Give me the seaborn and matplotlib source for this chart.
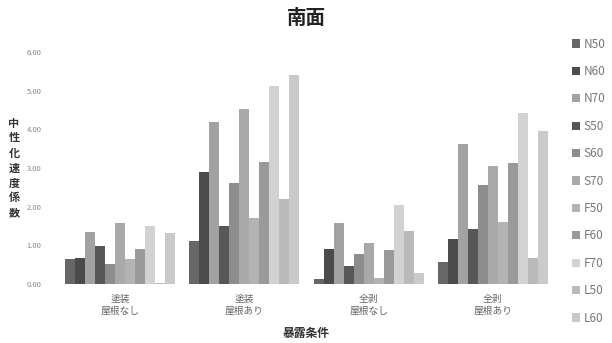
import matplotlib
matplotlib.use("Agg")
import matplotlib.pyplot as plt
import seaborn as sns
import pandas as pd

conditions = ["塗装\n屋根なし", "塗装\n屋根あり", "全剥\n屋根なし", "全剥\n屋根あり"]
series = ["N50", "N60", "N70", "S50", "S60", "S70", "F50", "F60", "F70", "L50", "L60"]

N50 = [0.64, 1.12, 0.12, 0.58]
N60 = [0.66, 2.89, 0.90, 1.16]
N70 = [1.35, 4.19, 1.57, 3.63]
S50 = [0.98, 1.50, 0.47, 1.41]
S60 = [0.52, 2.60, 0.77, 2.56]
S70 = [1.57, 4.52, 1.05, 3.06]
F50 = [0.64, 1.71, 0.15, 1.61]
F60 = [0.90, 3.16, 0.88, 3.13]
F70 = [1.50, 5.12, 2.04, 4.43]
L50 = [0.02, 2.19, 1.37, 0.68]
L60 = [1.33, 5.40, 0.28, 3.95]

values = [N50, N60, N70, S50, S60, S70, F50, F60, F70, L50, L60]
colors = ["#676767", "#4b4b4b", "#a2a2a2", "#575757", "#8d8d8d", "#a9a9a9",
          "#b3b3b3", "#9a9a9a", "#d2d2d2", "#bababa", "#cacaca"]

rows = []
for name, vals in zip(series, values):
    for cond, v in zip(conditions, vals):
        rows.append({"条件": cond, "系列": name, "値": v})
df = pd.DataFrame(rows)

sns.set_theme(style="white")
plt.rcParams["font.family"] = ["Noto Sans CJK JP", "DejaVu Sans"]

fig = plt.figure(figsize=(6.12, 3.43), dpi=100)
W, H = 612, 343
ax = fig.add_axes([58 / W, (H - 284) / H, (555 - 58) / W, (284 - 52) / H])

sns.barplot(data=df, x="条件", y="値", hue="系列", order=conditions,
            hue_order=series, palette=colors, width=0.885, gap=0,
            saturation=1, linewidth=0, ax=ax, legend=True)

ax.set_ylim(0, 6)
ax.set_xlim(-0.5, 3.5)
ax.set_yticks(range(0, 7))
ax.set_yticklabels([f"{v:.2f}" for v in range(0, 7)], fontsize=5.5, color="#888888")
ax.tick_params(axis="y", length=2, width=0.5, color="#cccccc", pad=10)
ax.tick_params(axis="x", length=0, labelsize=7, colors="#666666", pad=7)
for s in ax.spines.values():
    s.set_visible(False)
ax.set_xlabel("")
ax.set_ylabel("")

handles, labels = ax.get_legend_handles_labels()
ax.get_legend().remove()
fig.legend(handles, labels, loc="upper left", bbox_to_anchor=(561 / W, 1 - 27 / H),
           frameon=False, fontsize=8.5, handlelength=0.7, handleheight=0.7,
           handletextpad=0.3, labelspacing=1.22, labelcolor="#777777")

fig.text(306 / W, 1 - 18 / H, "南面", ha="center", va="center",
         fontsize=14, fontweight="bold", color="#222222")
fig.text(14 / W, 1 - 168 / H, "\n".join("中性化速度係数"), ha="center", va="center",
         fontsize=8, fontweight="bold", color="#333333", linespacing=1.2)
fig.text(306 / W, 1 - 333 / H, "暴露条件", ha="center", va="center",
         fontsize=8.5, fontweight="bold", color="#333333")

fig.savefig("out.png", dpi=100)
